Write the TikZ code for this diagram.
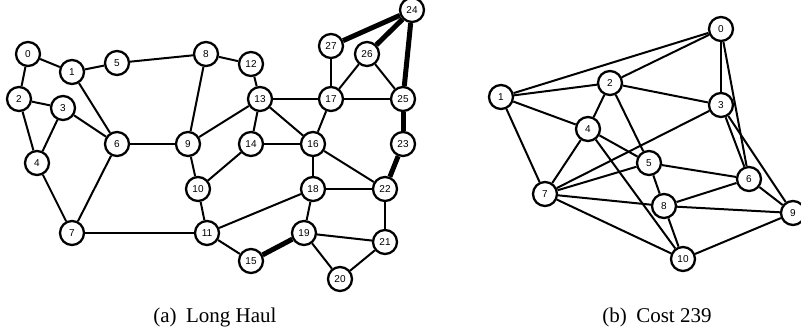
\documentclass[tikz,border=0pt]{standalone}
\usepackage{fontspec}
\setmainfont{Liberation Serif}
\newfontfamily\nodefont{Liberation Sans}
\begin{document}
\begin{tikzpicture}[x=1pt,y=-1pt,
  vtx/.style={circle,draw=black,line width=2.3pt,fill=white,minimum size=24pt,inner sep=0pt,font=\nodefont\fontsize{10}{10}\selectfont},
  edge/.style={line width=2.0pt},
  mid/.style={line width=2.7pt},
  heavy/.style={line width=5pt},
  captext/.style={font=\fontsize{21}{23}\selectfont,anchor=base}]
\useasboundingbox (0,0) rectangle (801,335);
% ---------- (a) Long Haul ----------
\node[vtx] (a0) at (28,54) {0};
\node[vtx] (a1) at (72,72) {1};
\node[vtx] (a2) at (19,99) {2};
\node[vtx] (a3) at (63,108) {3};
\node[vtx] (a4) at (37,163) {4};
\node[vtx] (a5) at (117,63) {5};
\node[vtx] (a6) at (117,144) {6};
\node[vtx] (a7) at (72,233) {7};
\node[vtx] (a8) at (206,54) {8};
\node[vtx] (a9) at (188,144) {9};
\node[vtx] (a10) at (198,189) {10};
\node[vtx] (a11) at (207,233) {11};
\node[vtx] (a12) at (251,64) {12};
\node[vtx] (a13) at (260,99) {13};
\node[vtx] (a14) at (251,144) {14};
\node[vtx] (a15) at (251,261) {15};
\node[vtx] (a16) at (313,144) {16};
\node[vtx] (a17) at (331,99) {17};
\node[vtx] (a18) at (313,189) {18};
\node[vtx] (a19) at (304,233) {19};
\node[vtx] (a20) at (340,279) {20};
\node[vtx] (a21) at (385,242) {21};
\node[vtx] (a22) at (385,189) {22};
\node[vtx] (a23) at (403,144) {23};
\node[vtx] (a24) at (412,10) {24};
\node[vtx] (a25) at (403,99) {25};
\node[vtx] (a26) at (367,54) {26};
\node[vtx] (a27) at (331,46) {27};
% ---------- (b) Cost 239 ----------
\node[vtx] (b0) at (721,29) {0};
\node[vtx] (b1) at (501,97) {1};
\node[vtx] (b2) at (610,83) {2};
\node[vtx] (b3) at (721,105) {3};
\node[vtx] (b4) at (588,129) {4};
\node[vtx] (b5) at (649,163) {5};
\node[vtx] (b6) at (749,179) {6};
\node[vtx] (b7) at (545,194) {7};
\node[vtx] (b8) at (664,206) {8};
\node[vtx] (b9) at (793,213) {9};
\node[vtx] (b10) at (683,259) {10};
% edges
\foreach \u/\v in {a0/a1,a0/a2,a1/a5,a1/a6,a5/a8,a2/a3,a2/a4,a3/a4,a3/a6,a4/a7,a6/a7,a7/a11,a8/a9,a8/a12,a9/a13,a9/a10,a10/a11,a10/a14,a12/a13,a13/a14,a13/a17,a13/a16,a14/a16,a17/a16,a17/a27,a17/a26,a17/a25,a26/a25,a16/a18,a16/a22,a18/a22,a18/a11,a18/a19,a11/a15,a19/a21,a19/a20,a20/a21,a22/a21,
  b0/b1,b0/b2,b0/b3,b0/b6,b1/b2,b1/b4,b1/b7,b2/b3,b2/b4,b2/b5,b3/b7,b3/b6,b3/b9,b4/b7,b4/b5,b4/b10,b5/b7,b5/b6,b5/b8,b6/b8,b6/b9,b7/b8,b7/b10,b8/b9,b8/b10,b9/b10}
  \draw[edge] (\u) -- (\v);
\draw[mid] (a6) -- (a9);
\foreach \u/\v in {a26/a24,a27/a24,a24/a25,a25/a23,a23/a22,a15/a19}
  \draw[heavy] (\u) -- (\v);
% captions
\node[captext] (capa) at (215,322) {(a)\hspace{0.45em}Long Haul};
\node[captext] (capb) at (657,322) {(b)\hspace{0.45em}Cost 239};
\end{tikzpicture}
\end{document}
